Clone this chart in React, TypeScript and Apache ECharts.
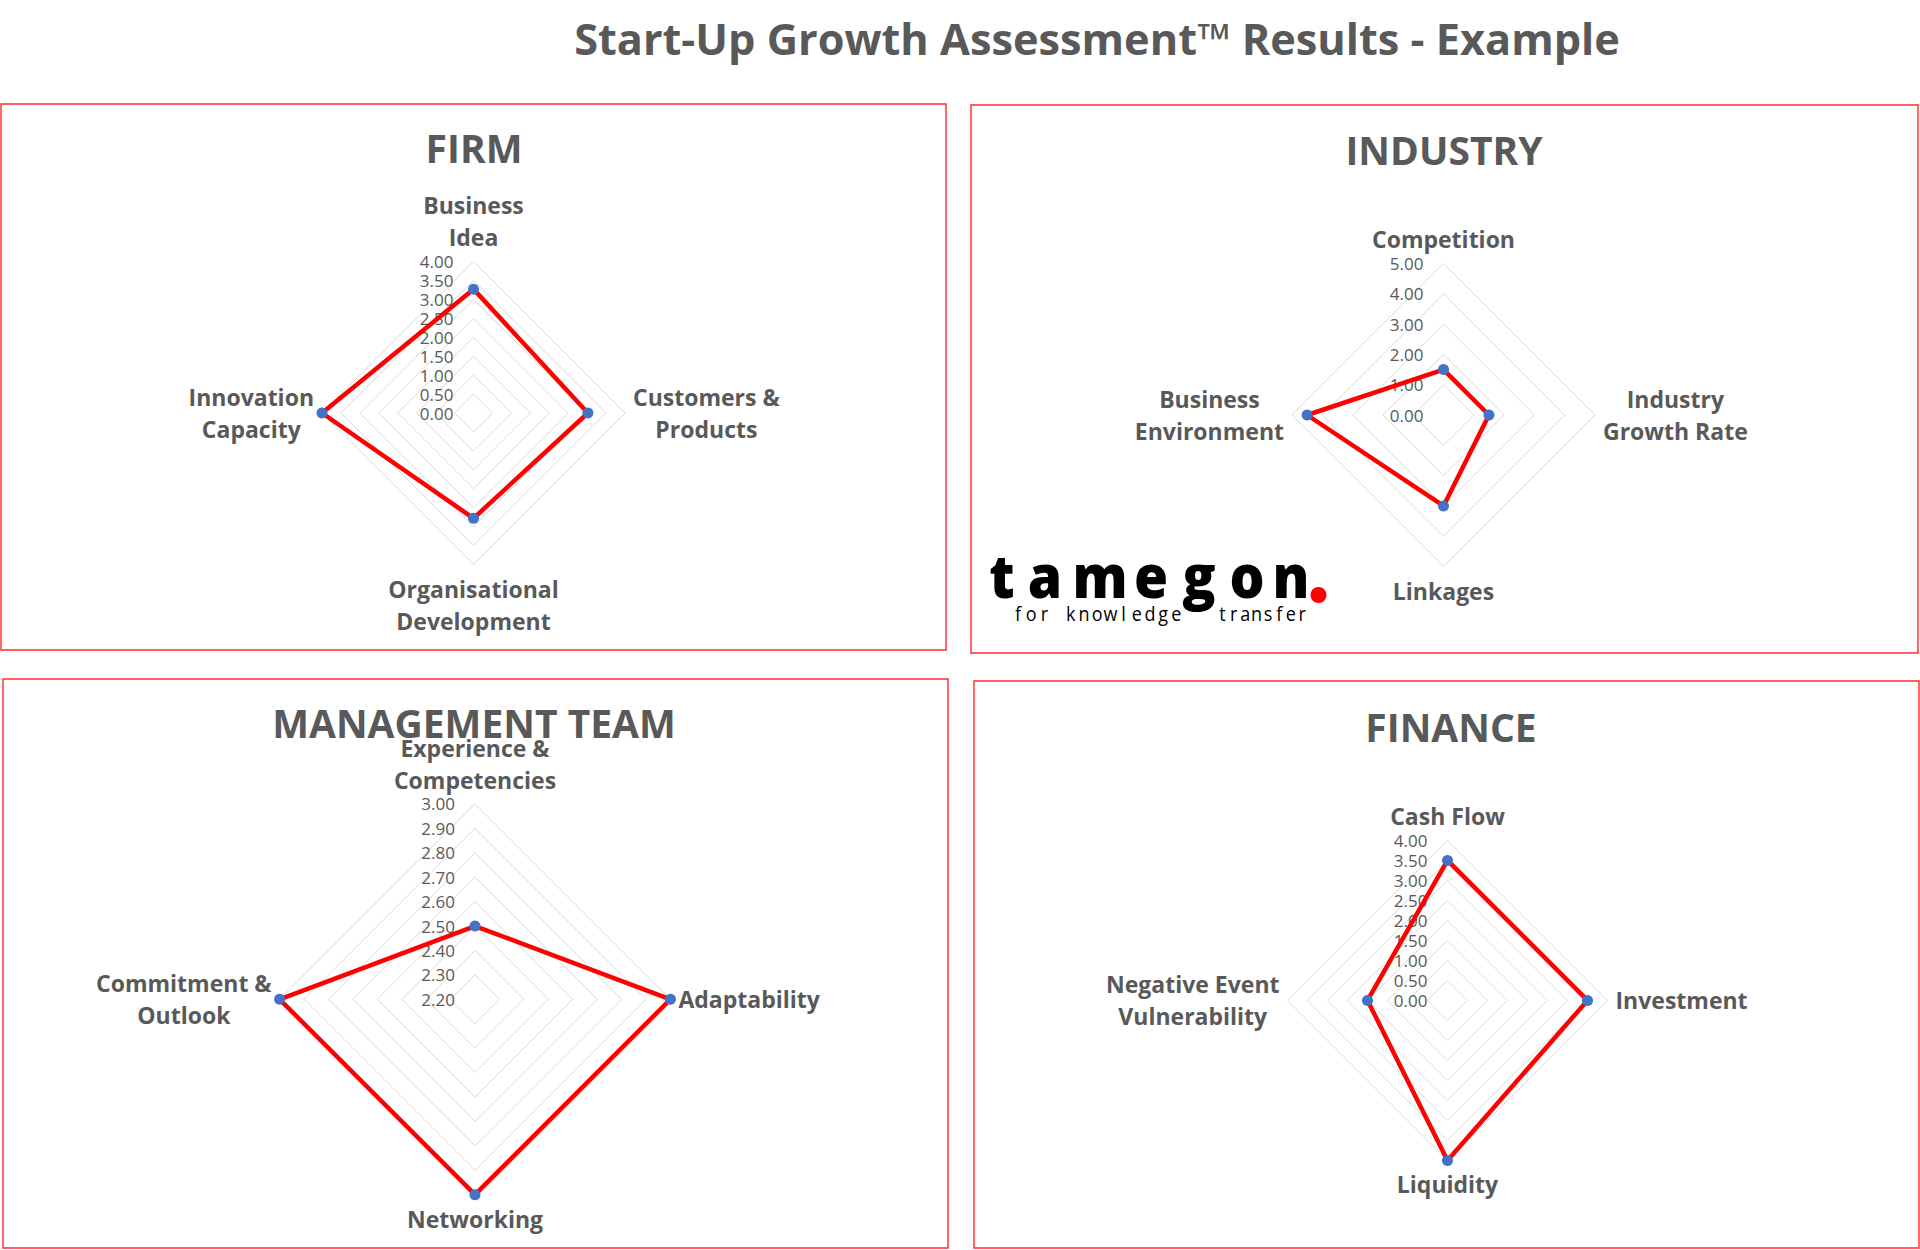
import React, { useEffect, useRef } from "react";
import * as echarts from "echarts";

// ---------- DATA (categories listed clockwise from the top) ----------
const mainTitle = "Start-Up Growth Assessment™ Results - Example";

const firmTitle = "FIRM";
const firmCategories = ["Business\nIdea", "Customers &\nProducts", "Organisational\nDevelopment", "Innovation\nCapacity"];
const firmValues = [3.27, 3.02, 2.78, 4.0];
const firmScale = [0, 4, 8]; // min, max, splits

const industryTitle = "INDUSTRY";
const industryCategories = ["Competition", "Industry\nGrowth Rate", "Linkages", "Business\nEnvironment"];
const industryValues = [1.5, 1.5, 3.0, 4.5];
const industryScale = [0, 5, 5];

const mgmtTitle = "MANAGEMENT TEAM";
const mgmtCategories = ["Experience &\nCompetencies", "Adaptability", "Networking", "Commitment &\nOutlook"];
const mgmtValues = [2.5, 3.0, 3.0, 3.0];
const mgmtScale = [2.2, 3.0, 8];

const financeTitle = "FINANCE";
const financeCategories = ["Cash Flow", "Investment", "Liquidity", "Negative Event\nVulnerability"];
const financeValues = [3.5, 3.5, 4.0, 2.0];
const financeScale = [0, 4, 8];

const logoWord = "tamegon";
const logoTag1 = "for knowledge";
const logoTag2 = "transfer";

// ---------- LAYOUT ----------
const TEXT = "#595959";
const FONT = "Open Sans";

const panels = [
  { title: firmTitle, cats: firmCategories, vals: firmValues, scale: firmScale,
    center: [473.5, 413], radius: 151.5, box: [1, 104, 945, 546], titleX: 474, titleY: 147 },
  { title: industryTitle, cats: industryCategories, vals: industryValues, scale: industryScale,
    center: [1443.5, 415], radius: 151.5, box: [971, 105, 947, 548], titleX: 1444, titleY: 149 },
  { title: mgmtTitle, cats: mgmtCategories, vals: mgmtValues, scale: mgmtScale,
    center: [475, 999.3], radius: 195.4, box: [3, 679, 945, 569], titleX: 474, titleY: 722 },
  { title: financeTitle, cats: financeCategories, vals: financeValues, scale: financeScale,
    center: [1447.5, 1000.4], radius: 160, box: [974, 681, 945, 567], titleX: 1451, titleY: 726 },
];

const logoLetterX = [1002, 1045, 1100, 1151, 1199, 1247, 1291];

// ECharts radar goes counter-clockwise; reorder top,right,bottom,left -> top,left,bottom,right
const order = [0, 3, 2, 1];

export default function App() {
  const ref = useRef<HTMLDivElement>(null);

  useEffect(() => {
    if (!ref.current) return;
    const chart = echarts.init(ref.current, undefined, { renderer: "svg" });

    const nameRich = {
      c: { align: "center", color: TEXT, fontSize: 23, fontWeight: "bold", fontFamily: FONT, lineHeight: 32 },
    };

    const radar = panels.map((p) => ({
      center: p.center,
      radius: p.radius,
      shape: "polygon",
      splitNumber: p.scale[2],
      startAngle: 90,
      nameGap: 8,
      axisName: {
        color: TEXT,
        fontSize: 23,
        fontWeight: "bold",
        fontFamily: FONT,
        lineHeight: 32,
        formatter: (name: string) => name.split("\n").map((l) => `{c|${l}}`).join("\n"),
        rich: nameRich,
      },
      axisLine: { show: false },
      axisTick: { show: false },
      axisLabel: { show: false },
      splitLine: { lineStyle: { color: "#d9d9d9", width: 1 } },
      splitArea: { show: false },
      indicator: order.map((i, k) => {
        const ind: any = { name: p.cats[i], min: p.scale[0], max: p.scale[1] };
        if (k === 0) {
          ind.axisLabel = {
            show: true,
            color: TEXT,
            fontSize: 17,
            fontFamily: FONT,
            margin: 20,
            formatter: (v: number) => Number(v).toFixed(2),
          };
        }
        return ind;
      }),
    }));

    const series = panels.map((p, idx) => ({
      type: "radar",
      radarIndex: idx,
      symbol: "circle",
      symbolSize: 11,
      lineStyle: { color: "#ff0000", width: 4.5 },
      itemStyle: { color: "#4472C4" },
      data: [{ value: order.map((i) => p.vals[i]), name: p.title }],
    }));

    const graphics: any[] = [];
    graphics.push({
      type: "text",
      x: 1097,
      y: 38,
      style: { text: mainTitle, fill: TEXT, fontSize: 43.3, fontWeight: "bold", fontFamily: FONT, textAlign: "center", textVerticalAlign: "middle" },
    });
    panels.forEach((p) => {
      graphics.push({
        type: "rect",
        shape: { x: p.box[0], y: p.box[1], width: p.box[2], height: p.box[3] },
        style: { fill: "none", stroke: "#ff2a2a", lineWidth: 1.4 },
      });
      graphics.push({
        type: "text",
        x: p.titleX,
        y: p.titleY,
        style: { text: p.title, fill: TEXT, fontSize: 39, fontWeight: "bold", fontFamily: FONT, textAlign: "center", textVerticalAlign: "middle" },
      });
    });

    // logo
    logoWord.split("").forEach((ch, i) => {
      graphics.push({
        type: "text",
        x: logoLetterX[i],
        y: 575,
        scaleX: 0.92,
        style: { text: ch, fill: "#000", fontSize: 60, fontWeight: 800, fontFamily: FONT, textAlign: "center", textVerticalAlign: "middle" },
      });
    });
    graphics.push({ type: "circle", shape: { cx: 1318.5, cy: 595, r: 8 }, style: { fill: "#ff0000" } });
    logoTag1.split("").forEach((ch, i) => {
      graphics.push({
        type: "text",
        x: 1018 + i * 13.2,
        y: 613.2,
        scaleX: 0.9,
        style: { text: ch, fill: "#000", fontSize: 20, fontFamily: FONT, textAlign: "center", textVerticalAlign: "middle" },
      });
    });
    logoTag2.split("").forEach((ch, i) => {
      graphics.push({
        type: "text",
        x: 1222.4 + i * 11.4,
        y: 613.2,
        scaleX: 0.9,
        style: { text: ch, fill: "#000", fontSize: 20, fontFamily: FONT, textAlign: "center", textVerticalAlign: "middle" },
      });
    });

    chart.setOption({
      animation: false,
      backgroundColor: "#ffffff",
      radar,
      series,
      graphic: graphics,
    });

    return () => chart.dispose();
  }, []);

  return <div ref={ref} style={{ position: "absolute", left: 0, top: 0, width: 1920, height: 1250 }} />;
}
